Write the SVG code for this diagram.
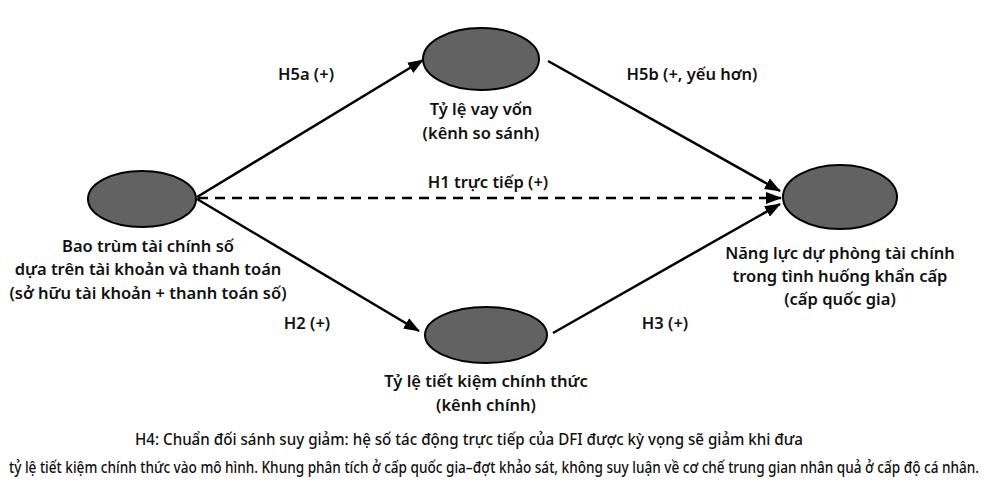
<svg xmlns="http://www.w3.org/2000/svg" width="988" height="495" viewBox="0 0 988 495">
<style>
.node ellipse{fill:#626262;stroke:#000;stroke-width:2}
text{font-family:"Noto Sans","DejaVu Sans",sans-serif;font-size:16.5px;font-weight:600;fill:#111;text-anchor:middle}
.edge{stroke:#000;stroke-width:2.5;fill:none}
.dash{stroke-dasharray:10 7}
.foot{font-size:16px;font-weight:500}
</style>
<defs>
<marker id="ahl" markerWidth="16" markerHeight="12" refX="15" refY="6" orient="auto" markerUnits="userSpaceOnUse" viewBox="0 0 16 12">
<path d="M0,0 L16,6 L0,12 z" fill="#000"/>
</marker>
</defs>
<rect width="988" height="495" fill="#fff"/>
<g id="connectors">
<line class="edge" x1="197" y1="197" x2="423" y2="60" marker-end="url(#ahl)"/>
<line class="edge" x1="548" y1="61" x2="780" y2="191" marker-end="url(#ahl)"/>
<line class="edge dash" x1="198" y1="198" x2="781" y2="198" marker-end="url(#ahl)"/>
<line class="edge" x1="197" y1="199" x2="419" y2="331" marker-end="url(#ahl)"/>
<line class="edge" x1="553" y1="333" x2="780" y2="204" marker-end="url(#ahl)"/>
<text x="306" y="80">H5a (+)</text>
<text x="692" y="80">H5b (+, yếu hơn)</text>
<text x="488" y="188">H1 trực tiếp (+)</text>
<text x="307" y="329">H2 (+)</text>
<text x="665" y="329">H3 (+)</text>
</g>
<g id="dfi" class="node">
<ellipse cx="142" cy="199" rx="54" ry="28"/>
<text x="148" y="252">Bao trùm tài chính số</text>
<text x="148" y="275">dựa trên tài khoản và thanh toán</text>
<text x="148" y="299">(sở hữu tài khoản + thanh toán số)</text>
</g>
<g id="borrow" class="node">
<ellipse cx="481" cy="59" rx="58" ry="31"/>
<text x="481" y="115">Tỷ lệ vay vốn</text>
<text x="481" y="139">(kênh so sánh)</text>
</g>
<g id="saving" class="node">
<ellipse cx="486" cy="335" rx="61" ry="28"/>
<text x="486" y="387">Tỷ lệ tiết kiệm chính thức</text>
<text x="486" y="411">(kênh chính)</text>
</g>
<g id="resilience" class="node">
<ellipse cx="840" cy="197" rx="57" ry="32"/>
<text x="840" y="259">Năng lực dự phòng tài chính</text>
<text x="840" y="282">trong tình huống khẩn cấp</text>
<text x="840" y="305">(cấp quốc gia)</text>
</g>
<g id="note">
<text class="foot" x="469" y="445" textLength="668" lengthAdjust="spacingAndGlyphs">H4: Chuẩn đối sánh suy giảm: hệ số tác động trực tiếp của DFI được kỳ vọng sẽ giảm khi đưa</text>
<text class="foot" x="494" y="473" textLength="970" lengthAdjust="spacingAndGlyphs">tỷ lệ tiết kiệm chính thức vào mô hình. Khung phân tích ở cấp quốc gia–đợt khảo sát, không suy luận về cơ chế trung gian nhân quả ở cấp độ cá nhân.</text>
</g>
</svg>
